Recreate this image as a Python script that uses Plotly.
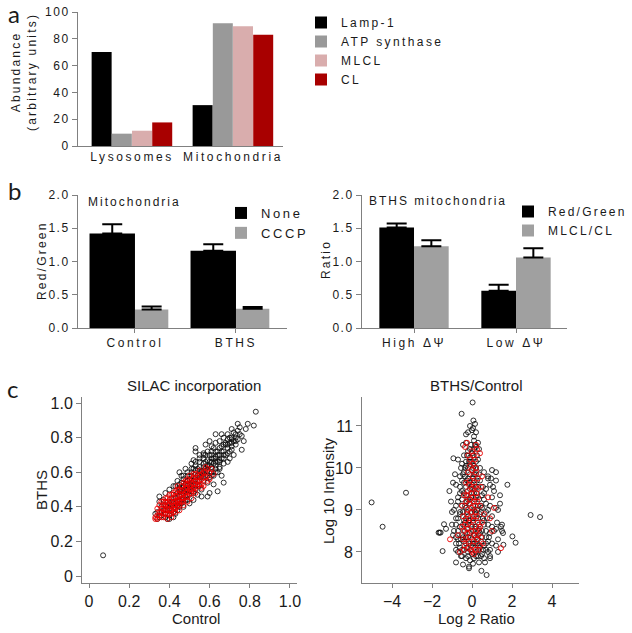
import plotly.graph_objects as go

W, H = 632, 633
def px(x): return x / W
def py(y): return 1 - y / H
def sp(s, n=2.2): return f'<span style="letter-spacing:{n}px">{s}</span>'

FONT = "Arial, Liberation Sans, sans-serif"
AX = "#808080"
TXT = "#1a1a1a"

# ---------------- Panel a ----------------
a_cats = ["Lysosomes", "Mitochondria"]
a_series = ["Lamp-1", "ATP synthase", "MLCL", "CL"]
a_lamp1 = [70.2, 30.5]
a_atp = [9.2, 91.6]
a_mlcl = [11.4, 89.3]
a_cl = [17.6, 83.1]
a_ticks = [0, 20, 40, 60, 80, 100]

# ---------------- Panel b ----------------
b1_cats = ["Control", "BTHS"]
b1_series = ["None", "CCCP"]
b1_none = [1.42, 1.16]
b1_none_err = [0.14, 0.10]
b1_cccp = [0.28, 0.29]
b1_cccp_err = [0.045, 0.025]

b2_cats = ["High ΔΨ", "Low ΔΨ"]
b2_series = ["Red/Green", "MLCL/CL"]
b2_rg = [1.51, 0.56]
b2_rg_err = [0.06, 0.09]
b2_ml = [1.23, 1.06]
b2_ml_err = [0.09, 0.14]
b_ticks = [0.0, 0.5, 1.0, 1.5, 2.0]

# ---------------- Panel c ----------------
cL_black = [(0.38,0.36),(0.39,0.33),(0.40,0.35),(0.41,0.38),(0.42,0.34),(0.40,0.42),(0.37,0.44),(0.36,0.40),
 (0.34,0.37),(0.33,0.36),(0.35,0.43),(0.43,0.40),(0.44,0.43),(0.45,0.46),(0.46,0.42),(0.47,0.45),(0.48,0.50),
 (0.45,0.51),(0.44,0.48),(0.43,0.52),(0.42,0.47),(0.41,0.45),(0.46,0.54),(0.47,0.40),(0.49,0.44),(0.50,0.47),
 (0.51,0.52),(0.52,0.55),(0.53,0.50),(0.50,0.56),(0.49,0.58),(0.48,0.53),(0.51,0.60),(0.52,0.48),(0.54,0.53),
 (0.55,0.57),(0.56,0.60),(0.54,0.62),(0.53,0.64),(0.55,0.52),(0.57,0.55),(0.58,0.58),(0.56,0.50),(0.57,0.63),
 (0.58,0.66),(0.59,0.61),(0.60,0.57),(0.60,0.64),(0.61,0.60),(0.62,0.65),(0.61,0.68),(0.60,0.70),(0.59,0.54),
 (0.62,0.58),(0.63,0.62),(0.63,0.69),(0.64,0.66),(0.64,0.72),(0.65,0.70),(0.65,0.63),(0.66,0.68),(0.66,0.75),
 (0.67,0.72),(0.67,0.65),(0.68,0.70),(0.68,0.76),(0.69,0.74),(0.69,0.79),(0.70,0.72),(0.70,0.77),(0.71,0.80),
 (0.71,0.75),(0.72,0.78),(0.72,0.83),(0.73,0.80),(0.73,0.76),(0.74,0.84),(0.74,0.79),(0.75,0.82),(0.76,0.81),
 (0.62,0.74),(0.61,0.72),(0.58,0.70),(0.57,0.68),(0.55,0.66),(0.54,0.58),(0.53,0.56),(0.52,0.62),(0.50,0.53),
 (0.49,0.50),(0.48,0.46),(0.47,0.48),(0.46,0.50),(0.45,0.40),(0.44,0.38),(0.43,0.36),(0.42,0.42),(0.41,0.41),
 (0.40,0.39),(0.39,0.40),(0.38,0.41),(0.37,0.38),(0.36,0.35),(0.35,0.34),
 (0.07,0.12),(0.83,0.95),(0.82,0.87),(0.74,0.88),(0.75,0.86),(0.63,0.82),(0.76,0.73),(0.67,0.54),(0.59,0.46),
 (0.53,0.74),(0.53,0.72),(0.45,0.60),(0.70,0.80),(0.71,0.79),(0.68,0.77),(0.64,0.49),(0.60,0.48),(0.56,0.46),
 (0.52,0.44),(0.57,0.71),(0.51,0.65),(0.47,0.58),(0.44,0.55),(0.56,0.58),(0.58,0.62),(0.60,0.66),(0.62,0.68),
 (0.64,0.70),(0.66,0.72),(0.55,0.61),(0.57,0.59),(0.59,0.64),(0.61,0.63),(0.63,0.66),(0.65,0.67),
 (0.45,0.42),(0.45,0.47),(0.45,0.50),(0.45,0.53),(0.47,0.44),(0.47,0.49),(0.47,0.52),(0.47,0.56),
 (0.49,0.47),(0.49,0.52),(0.49,0.55),(0.49,0.60),(0.51,0.49),(0.51,0.55),(0.51,0.58),(0.51,0.62),
 (0.53,0.52),(0.53,0.57),(0.53,0.61),(0.53,0.66),(0.55,0.55),(0.55,0.59),(0.55,0.63),(0.55,0.68),
 (0.57,0.57),(0.57,0.61),(0.57,0.65),(0.57,0.70),(0.59,0.58),(0.59,0.63),(0.59,0.67),(0.59,0.72),
 (0.61,0.58),(0.61,0.62),(0.61,0.66),(0.61,0.70),(0.61,0.75),(0.63,0.60),(0.63,0.64),(0.63,0.68),(0.63,0.72),
 (0.63,0.77),(0.65,0.62),(0.65,0.66),(0.65,0.74),(0.65,0.78),(0.67,0.68),(0.67,0.70),(0.67,0.76),(0.67,0.80),
 (0.69,0.71),(0.69,0.76),(0.69,0.82),(0.71,0.73),(0.71,0.77),(0.71,0.85),(0.73,0.78),(0.73,0.82),
 (0.58,0.76),(0.60,0.78),(0.66,0.82),(0.64,0.60),(0.69,0.66),(0.72,0.70),(0.54,0.47),(0.50,0.42),(0.42,0.52),
 (0.40,0.50),(0.38,0.48),(0.35,0.46),(0.46,0.58),(0.48,0.62),(0.62,0.53),(0.66,0.58),(0.70,0.68),(0.55,0.70),
 (0.52,0.67),(0.78,0.85),(0.77,0.78),(0.79,0.88),
 (0.38,0.34),(0.40,0.33),(0.42,0.37),(0.44,0.41),(0.46,0.44),(0.39,0.38),(0.41,0.43),(0.36,0.37),(0.34,0.33),
 (0.43,0.45),(0.45,0.49),(0.47,0.51),(0.49,0.55),(0.50,0.51),(0.52,0.53),(0.48,0.44)]

cL_red = [(0.33,0.33),(0.34,0.35),(0.35,0.37),(0.36,0.34),(0.36,0.39),(0.37,0.36),(0.37,0.41),(0.38,0.38),
 (0.38,0.43),(0.39,0.36),(0.39,0.41),(0.40,0.38),(0.40,0.44),(0.41,0.40),(0.41,0.36),(0.42,0.43),(0.42,0.39),
 (0.43,0.46),(0.43,0.41),(0.44,0.44),(0.44,0.40),(0.45,0.47),(0.45,0.43),(0.46,0.45),(0.46,0.49),(0.47,0.47),
 (0.47,0.43),(0.48,0.51),(0.48,0.48),(0.49,0.46),(0.49,0.53),(0.50,0.50),(0.50,0.55),(0.51,0.48),(0.51,0.54),
 (0.52,0.51),(0.52,0.57),(0.53,0.53),(0.53,0.59),(0.54,0.55),(0.55,0.58),(0.55,0.53),(0.56,0.56),(0.57,0.60),
 (0.58,0.57),(0.59,0.62),(0.44,0.50),(0.42,0.48),(0.40,0.47),(0.38,0.45),(0.36,0.43),(0.35,0.41),(0.46,0.52),
 (0.48,0.55),(0.50,0.58),(0.39,0.33),(0.41,0.34),(0.43,0.37),(0.45,0.38),(0.47,0.41),(0.49,0.43),(0.51,0.45),
 (0.53,0.48),(0.34,0.39),(0.37,0.34),(0.57,0.52),(0.60,0.56),(0.61,0.62),
 (0.36,0.37),(0.37,0.39),(0.38,0.40),(0.38,0.36),(0.39,0.39),(0.39,0.43),(0.40,0.41),(0.40,0.36),(0.41,0.43),
 (0.41,0.38),(0.42,0.41),(0.42,0.45),(0.42,0.37),(0.43,0.43),(0.43,0.39),(0.44,0.46),(0.44,0.42),(0.45,0.44),
 (0.45,0.41),(0.45,0.50),(0.46,0.47),(0.46,0.43),(0.47,0.50),(0.47,0.45),(0.48,0.46),(0.48,0.53),(0.49,0.49),
 (0.49,0.51),(0.50,0.48),(0.50,0.52),(0.51,0.50),(0.51,0.56),(0.52,0.53),(0.52,0.49),(0.53,0.55),(0.53,0.51),
 (0.54,0.57),(0.54,0.52),(0.55,0.55),(0.56,0.59),(0.56,0.53),(0.57,0.57),(0.58,0.60),(0.35,0.35),(0.34,0.33),
 (0.33,0.34),(0.37,0.43),(0.39,0.45),(0.41,0.47),(0.43,0.49),(0.44,0.52),(0.47,0.54),(0.49,0.56),(0.52,0.59),
 (0.55,0.61),(0.58,0.63),(0.60,0.60),(0.62,0.59),(0.59,0.55),(0.56,0.51)]

cR_black = [(-0.7,8.0),(-0.5,7.9),(-0.3,7.85),(-0.1,7.8),(0.1,7.85),(0.3,7.9),(0.5,7.95),(0.7,8.05),(-0.6,8.1),
 (-0.4,8.05),(-0.2,8.0),(0.0,7.95),(0.2,8.0),(0.4,8.1),(0.6,8.15),(0.8,8.0),(-0.8,8.2),(0.9,7.9),(-0.45,7.7),
 (0.35,7.75),(0.6,7.85),(-0.15,7.65),(0.05,7.72),
 (-0.9,8.5),(-0.7,8.3),(-0.5,8.4),(-0.3,8.35),(-0.1,8.45),(0.1,8.4),(0.3,8.3),(0.5,8.5),(0.7,8.35),(0.9,8.45),
 (1.1,8.5),(1.3,8.3),(-0.6,8.6),(-0.2,8.65),(0.2,8.6),(0.6,8.65),(1.0,8.6),(-0.4,8.25),(0.0,8.3),(0.4,8.45),
 (0.8,8.25),(1.2,8.55),(-1.0,8.65),(1.45,8.6),(1.5,8.65),(-0.25,8.55),(0.15,8.55),
 (-0.8,8.8),(-0.6,8.9),(-0.4,8.75),(-0.2,8.85),(0.0,8.95),(0.2,8.8),(0.4,8.9),(0.6,8.75),(0.8,9.0),(1.0,8.85),
 (1.2,9.05),(-0.9,9.0),(-0.5,9.1),(-0.1,9.15),(0.3,9.1),(0.7,9.15),(-0.3,9.05),(0.1,9.0),(0.5,9.05),(1.4,9.15),
 (-1.0,8.95),(-0.7,9.2),(1.0,9.3),
 (-0.7,9.3),(-0.5,9.45),(-0.3,9.35),(-0.1,9.5),(0.1,9.4),(0.3,9.55),(0.5,9.35),(0.7,9.5),(0.9,9.6),(1.1,9.45),
 (-0.8,9.6),(-0.4,9.65),(0.0,9.6),(0.4,9.7),(0.8,9.8),(-0.2,9.25),(0.2,9.3),(1.2,9.7),(-0.6,9.55),(1.4,9.35),
 (-0.6,9.8),(-0.4,9.9),(-0.2,9.75),(0.0,9.95),(0.2,9.85),(0.4,10.0),(-0.5,10.1),(-0.1,10.15),(0.3,10.2),
 (0.6,9.9),(1.0,9.95),(1.2,9.9),(-0.3,10.05),(0.1,10.05),(-0.7,10.2),(0.8,9.75),
 (-0.4,10.3),(-0.2,10.4),(0.0,10.35),(0.2,10.5),(-0.3,10.6),(0.1,10.65),(0.35,10.45),(-0.1,10.25),(0.25,10.3),
 (-0.45,10.55),(0.3,10.6),
 (-0.3,10.8),(0.0,10.9),(0.1,10.75),(-0.1,11.0),(0.15,11.05),(0.05,10.95),(-0.2,10.85),(0.2,10.85),(0.03,11.56),
 (-0.52,11.29),(0.07,11.13),
 (-5.02,9.18),(-4.47,8.6),(-3.3,9.41),(2.93,8.88),(3.4,8.83),(1.77,9.6),(2.02,8.37),(2.18,8.22),(1.57,8.17),
 (0.73,7.45),(0.47,7.55),(-0.15,7.61),(-1.47,8.02),(-1.67,8.46),(-1.62,8.46),(-1.57,8.46),(-1.4,8.66),
 (-1.13,9.45),(-0.93,10.23),
 (-0.25,8.1),(-0.05,8.15),(0.15,8.2),(-0.35,8.7),(-0.15,8.75),(0.05,8.7),(-0.25,9.2),(-0.05,9.3),(0.15,9.25),
 (-0.35,9.8),(-0.15,9.65),(0.05,9.75),(-0.2,10.0),(0.0,10.15),(-0.45,8.95),(0.25,9.0),(-0.3,8.2),(0.3,8.15),
 (-0.55,8.3),(0.45,8.25),
 (-0.55,7.9),(-0.2,7.9),(0.2,7.9),(0.45,7.9),(-0.8,8.05),(-0.5,8.05),(-0.1,8.05),(0.3,8.05),(0.55,8.05),(0.9,8.05),
 (-0.65,8.2),(-0.15,8.2),(0.05,8.2),(0.25,8.2),(0.7,8.2),(1.0,8.2),(-0.8,8.35),(-0.45,8.35),(-0.2,8.35),(0.2,8.35),
 (0.5,8.35),(0.85,8.35),(-0.7,8.5),(-0.35,8.5),(0.05,8.5),(0.35,8.5),(0.7,8.5),(-0.8,8.65),(-0.45,8.65),
 (-0.05,8.65),(0.35,8.65),(0.8,8.65),(-0.7,8.8),(-0.3,8.8),(0.05,8.8),(0.3,8.8),(0.55,8.8),(0.75,8.8),
 (-0.6,8.95),(-0.25,8.95),(0.15,8.95),(0.45,8.95),(0.7,8.95),(-0.8,9.1),(-0.35,9.1),(0.05,9.1),(0.45,9.1),
 (0.9,9.1),(-0.5,9.25),(-0.1,9.25),(0.35,9.25),(0.6,9.25),(-0.6,9.4),(-0.4,9.4),(0.0,9.4),(0.25,9.4),(0.6,9.4),
 (-0.3,9.55),(0.0,9.55),(0.2,9.55),(0.55,9.55),(-0.5,9.7),(-0.25,9.7),(0.1,9.7),(0.25,9.7),(-0.45,9.85),
 (-0.1,9.85),(0.1,9.85),(0.35,9.85),(-0.55,10.0),(-0.35,10.0),(0.05,10.0),(0.2,10.0),(-0.3,10.15),(-0.15,10.15),
 (0.2,10.15),(-0.25,10.3),(0.05,10.3),(-0.1,10.45),(0.1,10.45),(-0.05,10.55),(0.15,10.55),
 (1.3,9.0),(1.25,8.7),(1.5,8.5),(1.55,8.45),(0.95,9.75),(1.05,9.55),(1.2,8.15),(1.3,8.0),(0.9,7.85),(0.65,7.75),
 (-0.8,7.75),(-0.95,8.4),(-1.05,9.2),(-0.95,9.65),(-0.85,9.85),(-1.3,8.55)]

cR_red = [(-0.4,8.05),(-0.2,8.1),(0.0,8.0),(0.2,8.05),(0.4,8.15),(-0.3,8.3),(-0.1,8.35),(0.1,8.25),(0.3,8.4),
 (-0.4,8.5),(-0.2,8.55),(0.0,8.6),(0.2,8.5),(0.4,8.6),(-0.3,8.75),(-0.1,8.8),(0.1,8.85),(0.3,8.7),(-0.2,9.0),
 (0.0,9.05),(0.2,8.95),(-0.3,9.2),(-0.1,9.25),(0.1,9.2),(0.3,9.3),(-0.2,9.45),(0.0,9.5),(0.2,9.4),(-0.1,9.7),
 (0.1,9.65),(0.3,9.75),(-0.2,9.9),(0.0,9.95),(0.2,10.0),(-0.1,10.2),(0.1,10.3),(0.25,10.45),(-0.35,10.5),
 (0.4,10.35),(-0.25,10.6),(0.5,9.8),(0.9,8.8),(1.0,8.5),(1.1,9.05),(1.45,8.09),(0.8,9.3),(-0.7,8.4),(-0.6,8.0),
 (-1.1,8.3),(0.6,8.9),(0.55,8.2),(-0.5,9.1),(0.45,9.55),(-0.45,8.85),(0.35,8.05),
 (-0.35,8.15),(-0.15,8.25),(0.05,8.15),(0.25,8.3),(-0.25,8.45),(-0.05,8.5),(0.15,8.4),(0.35,8.55),(-0.35,8.65),
 (-0.15,8.7),(0.05,8.75),(0.25,8.85),(-0.25,8.9),(-0.05,8.95),(0.15,9.1),(-0.15,9.15),(0.05,9.3),(0.25,9.2),
 (-0.25,9.35),(-0.05,9.4),(0.15,9.55),(-0.15,9.6),(0.05,9.8),(0.2,9.9),(-0.1,10.05),(0.05,10.1),(0.15,10.2),
 (-0.2,10.3),(0.0,10.4),(-0.45,8.3),(-0.5,8.6),(0.45,8.35),(0.5,8.7),(-0.4,9.35),(0.4,9.1),(-0.3,9.65),(0.3,9.5),
 (0.2,10.55),(-0.05,8.05),(0.1,7.95)]

cL_ticks = [0, 0.2, 0.4, 0.6, 0.8, 1.0]
cL_ticktext = ["0", "0.2", "0.4", "0.6", "0.8", "1.0"]
cR_xticks = [-4, -2, 0, 2, 4]
cR_yticks = [8, 9, 10, 11]

fig = go.Figure()

# Panel a bars
a_colors = ["#000000", "#999999", "#d9adad", "#a80000"]
a_vals = [a_lamp1, a_atp, a_mlcl, a_cl]
a_offsets = [-0.4, -0.2, 0.0, 0.2]
for name, vals, col, off in zip(a_series, a_vals, a_colors, a_offsets):
    fig.add_trace(go.Bar(x=a_cats, y=vals, name=sp(name, 2.4), marker=dict(color=col, line=dict(width=0)),
                         width=0.198, offset=off, xaxis="x", yaxis="y", legend="legend"))

# Panel b left
eb = dict(type="data", symmetric=False, color="black", thickness=2, width=10)
fig.add_trace(go.Bar(x=b1_cats, y=b1_none, name=sp(b1_series[0], 2.6), marker=dict(color="#000000", line=dict(width=0)),
                     width=0.45, offset=-0.45, error_y=dict(array=b1_none_err, arrayminus=[0, 0], **eb),
                     xaxis="x2", yaxis="y2", legend="legend2"))
fig.add_trace(go.Bar(x=b1_cats, y=b1_cccp, name=sp(b1_series[1], 2.6), marker=dict(color="#a0a0a0", line=dict(width=0)),
                     width=0.33, offset=0.0, error_y=dict(array=b1_cccp_err, arrayminus=[0, 0], **eb),
                     xaxis="x2", yaxis="y2", legend="legend2"))

# Panel b right
fig.add_trace(go.Bar(x=b2_cats, y=b2_rg, name=sp(b2_series[0], 2.2), marker=dict(color="#000000", line=dict(width=0)),
                     width=0.34, offset=-0.34, error_y=dict(array=b2_rg_err, arrayminus=[0, 0], **eb),
                     xaxis="x3", yaxis="y3", legend="legend3"))
fig.add_trace(go.Bar(x=b2_cats, y=b2_ml, name=sp(b2_series[1], 2.2), marker=dict(color="#a0a0a0", line=dict(width=0)),
                     width=0.34, offset=0.0, error_y=dict(array=b2_ml_err, arrayminus=[0, 0], **eb),
                     xaxis="x3", yaxis="y3", legend="legend3"))

# Panel c scatters
def mk(col):
    return dict(symbol="circle-open", size=5, color=col, line=dict(width=1, color=col))

fig.add_trace(go.Scatter(x=[p[0] for p in cL_black], y=[p[1] for p in cL_black], mode="markers",
                         marker=mk("rgba(15,15,15,0.85)"), xaxis="x4", yaxis="y4", showlegend=False))
fig.add_trace(go.Scatter(x=[p[0] for p in cL_red], y=[p[1] for p in cL_red], mode="markers",
                         marker=mk("rgba(235,0,0,0.9)"), xaxis="x4", yaxis="y4", showlegend=False))
fig.add_trace(go.Scatter(x=[p[0] for p in cR_black], y=[p[1] for p in cR_black], mode="markers",
                         marker=mk("rgba(15,15,15,0.85)"), xaxis="x5", yaxis="y5", showlegend=False))
fig.add_trace(go.Scatter(x=[p[0] for p in cR_red], y=[p[1] for p in cR_red], mode="markers",
                         marker=mk("rgba(235,0,0,0.9)"), xaxis="x5", yaxis="y5", showlegend=False))

tickfont_ab = dict(family=FONT, size=12, color=TXT)
tickfont_c = dict(family=FONT, size=16, color=TXT)

def yax(dom, rng, ticks, ttext=None, font=tickfont_ab, anchor="x"):
    d = dict(domain=[py(dom[1]), py(dom[0])], range=rng, showline=True, linecolor=AX, linewidth=1,
             ticks="outside", ticklen=5, tickcolor=AX, tickwidth=1, showgrid=False, zeroline=False,
             tickvals=ticks, tickfont=font, anchor=anchor, fixedrange=True, automargin=False)
    if ttext is not None:
        d["ticktext"] = ttext
    return d

def xax(dom, rng, anchor, ticks="outside", font=tickfont_ab, **kw):
    d = dict(domain=[px(dom[0]), px(dom[1])], range=rng, showline=True, linecolor=AX, linewidth=1,
             ticks=ticks, ticklen=4, tickcolor=AX, showgrid=False, zeroline=False, tickfont=font,
             anchor=anchor, fixedrange=True, automargin=False)
    d.update(kw)
    return d

fig.update_layout(
    width=W, height=H, margin=dict(l=0, r=0, t=0, b=0, autoexpand=False),
    paper_bgcolor="white", plot_bgcolor="white",
    barmode="overlay", font=dict(family=FONT, color=TXT),
    xaxis=xax((78, 283), [-0.535, 1.495], "y", ticks="", type="category",
              tickvals=a_cats, ticktext=[sp(c, 2.6) for c in a_cats]),
    yaxis=yax((12, 146), [0, 100], a_ticks, [sp(str(t), 1.5) for t in a_ticks]),
    xaxis2=xax((78, 287), [-0.564, 1.505], "y2", type="category",
               tickvals=b1_cats, ticktext=[sp(c, 2.6) for c in b1_cats]),
    yaxis2=yax((195, 328), [0, 2], b_ticks, [sp(f"{t:.1f}", 1.5) for t in b_ticks], anchor="x2"),
    xaxis3=xax((362, 567), [-0.51, 1.5], "y3", type="category",
               tickvals=b2_cats, ticktext=[sp(c, 2.6) for c in b2_cats]),
    yaxis3=yax((195, 328), [0, 2], b_ticks, [sp(f"{t:.1f}", 1.5) for t in b_ticks], anchor="x3"),
    xaxis4=xax((82, 297), [-0.035, 1.035], "y4", font=tickfont_c, tickvals=cL_ticks, ticktext=cL_ticktext),
    yaxis4=yax((397, 583), [-0.04, 1.035], cL_ticks, cL_ticktext, font=tickfont_c, anchor="x4"),
    xaxis5=xax((362, 579), [-5.5, 5.35], "y5", font=tickfont_c, tickvals=cR_xticks),
    yaxis5=yax((397, 583), [7.26, 11.69], cR_yticks, font=tickfont_c, anchor="x5"),
    legend=dict(x=px(301), y=py(8), xanchor="left", yanchor="top", bgcolor="rgba(0,0,0,0)",
                font=dict(family=FONT, size=12, color=TXT), tracegroupgap=0, traceorder="normal"),
    legend2=dict(x=px(221), y=py(198), xanchor="left", yanchor="top", bgcolor="rgba(0,0,0,0)",
                 font=dict(family=FONT, size=13, color=TXT), traceorder="normal"),
    legend3=dict(x=1.0, y=py(197), xanchor="right", yanchor="top", bgcolor="rgba(0,0,0,0)",
                 font=dict(family=FONT, size=12, color=TXT), traceorder="normal"),
)

ann = []
def A(text, x, y, size=12, angle=0, xanchor="center", yanchor="middle", family=FONT):
    ann.append(dict(text=text, x=px(x), y=py(y), xref="paper", yref="paper", showarrow=False,
                    textangle=angle, xanchor=xanchor, yanchor=yanchor,
                    font=dict(family=family, size=size, color=TXT)))

# panel letters
A("a", 14, 13, size=24, family="Lato, Open Sans, sans-serif")
A("b", 14, 191, size=24, family="Lato, Open Sans, sans-serif")
A("c", 12, 388, size=24, family="Lato, Open Sans, sans-serif")
# axis titles
A(sp("Abundance", 2.2) + "<br>" + sp("(arbitrary units)", 2.2), 24, 72, size=12, angle=-90)
A(sp("Red/Green", 2.2), 42, 260, size=12, angle=-90)
A(sp("Ratio", 2.2), 326, 260, size=12, angle=-90)
A(sp("Mitochondria", 2.0), 86, 202, size=12, xanchor="left")
A(sp("BTHS mitochondria", 2.0), 367, 201, size=12, xanchor="left")
A("SILAC incorporation", 194, 385, size=15)
A("BTHS/Control", 476, 385, size=15)
A("Control", 196, 618, size=15)
A("Log 2 Ratio", 476, 618, size=15)
A("BTHS", 41, 490, size=15, angle=-90)
A("Log 10 Intensity", 328, 491, size=15, angle=-90)
fig.update_layout(annotations=ann)

fig.write_html("out.html", config={"displayModeBar": False, "staticPlot": True},
               post_script="document.body.style.margin='0';document.body.style.padding='0';document.body.style.overflow='hidden';")
